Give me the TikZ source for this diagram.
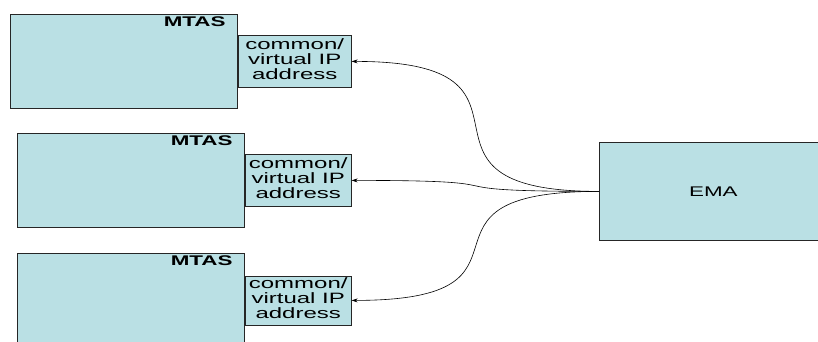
\documentclass[tikz,border=0pt]{standalone}
\usepackage{fontspec}
\setmainfont{Liberation Sans}
\usepackage{graphicx}
\usetikzlibrary{positioning,arrows.meta}

\definecolor{boxfill}{RGB}{186,224,228}
\newcommand{\wide}[1]{\scalebox{1.6}[1]{#1}}
\newcommand{\ipaddr}{\wide{\begin{tabular}{@{}c@{}}common/\\virtual IP\\address\end{tabular}}}

\begin{document}
\begin{tikzpicture}[x=1pt, y=-1pt, font=\fontsize{15}{14.5}\selectfont,
	mtas/.style={draw=black!85, fill=boxfill, line width=0.8pt, minimum width=227pt, minimum height=94pt, anchor=north west},
	ipbox/.style={draw=black!85, fill=boxfill, line width=0.8pt, inner sep=0pt, minimum width=106pt, minimum height=52pt},
	tag/.style={font=\fontsize{14}{15}\selectfont\bfseries, inner sep=0pt, anchor=north east, xshift=-12pt, yshift=-3pt},
	link/.style={line width=0.6pt, -{Stealth[length=6pt,width=4pt]}, out=180, in=0, looseness=2}]
		\useasboundingbox (0,0) rectangle (818,342);
		% three MTAS boxes with their address boxes
		\node[mtas] (mtasA) at (10,14) {};
		\node[tag] at (mtasA.north east) {\wide{MTAS}};
		\node[ipbox, minimum width=113pt, right=0pt of mtasA] (ipA) {\ipaddr};
		\node[mtas] (mtasB) at (17,133) {};
		\node[tag] at (mtasB.north east) {\wide{MTAS}};
		\node[ipbox, right=0pt of mtasB] (ipB) {\ipaddr};
		\node[mtas] (mtasC) at (17,253) {};
		\node[tag] at (mtasC.north east) {\wide{MTAS}};
		\node[ipbox, minimum height=49pt, right=0pt of mtasC] (ipC) {\ipaddr};
		% EMA
		\node[mtas, minimum width=228pt, minimum height=98pt] (ema) at (599,142) {\fontsize{14}{15}\selectfont\wide{EMA}};
		\draw[link] (ema.west) to (ipA.east);
		\draw[link] (ema.west) to (ipB.east);
		\draw[link] (ema.west) to (ipC.east);
	\end{tikzpicture}
\end{document}
